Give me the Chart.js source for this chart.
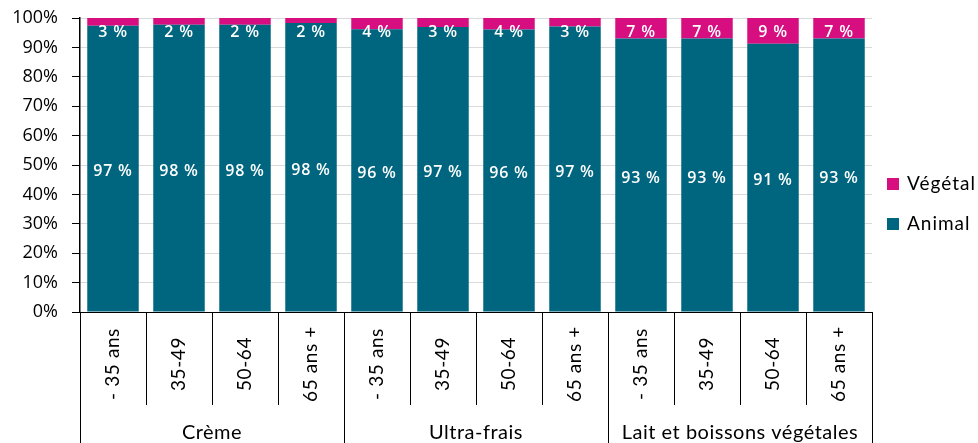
<!DOCTYPE html>
<html><head><meta charset="utf-8">
<script src="https://cdn.jsdelivr.net/npm/chart.js@4/dist/chart.umd.min.js"></script>
<style>html,body{margin:0;padding:0;background:#fff;}#wrap{width:978px;height:443px;position:relative;}</style>
</head><body><div id="wrap"><canvas id="c" width="978" height="443"></canvas></div>
<script>
const groups = ['Crème', 'Ultra-frais', 'Lait et boissons végétales'];
const ageLabels = ['- 35 ans', '35-49', '50-64', '65 ans +',
                   '- 35 ans', '35-49', '50-64', '65 ans +',
                   '- 35 ans', '35-49', '50-64', '65 ans +'];
const categories = ['Crème - 35 ans', 'Crème 35-49', 'Crème 50-64', 'Crème 65 ans +',
                    'Ultra-frais - 35 ans', 'Ultra-frais 35-49', 'Ultra-frais 50-64', 'Ultra-frais 65 ans +',
                    'Lait - 35 ans', 'Lait 35-49', 'Lait 50-64', 'Lait 65 ans +'];
const animal  = [97.4, 97.7, 97.7, 98.3, 96.2, 96.9, 96.1, 97.1, 93.0, 93.0, 91.2, 93.0];
const vegetal = [2.6, 2.3, 2.3, 1.7, 3.8, 3.1, 3.9, 2.9, 7.0, 7.0, 8.8, 7.0];
const seriesNames = ['Animal', 'Végétal'];
const yTickStep = 10;

const TEAL = '#00657f';
const PINK = '#d60e80';
const LABEL_FONT = '600 16px "Open Sans"';
const AXIS_FONT = 'Lato';

const overlay = {
  id: 'overlay',
  afterDatasetsDraw(chart) {
    const ctx = chart.ctx, area = chart.chartArea;
    ctx.save();
    ctx.fillStyle = '#fff';
    ctx.font = LABEL_FONT;
    ctx.letterSpacing = '0.8px';
    ctx.textAlign = 'center';
    ctx.textBaseline = 'middle';
    chart.data.datasets.forEach((ds, di) => {
      const meta = chart.getDatasetMeta(di);
      meta.data.forEach((el, i) => {
        const txt = Math.round(ds.data[i]) + ' %';
        let y;
        if (di === 0) y = (el.y + el.base) / 2 + 3;
        else y = area.top + 14;
        ctx.fillText(txt, el.x, y);
      });
    });
    ctx.restore();
  },
  afterDraw(chart) {
    const ctx = chart.ctx, area = chart.chartArea, xs = chart.scales.x;
    const n = ageLabels.length;
    const step = (area.right - area.left) / n;
    ctx.save();
    ctx.strokeStyle = '#000';
    ctx.lineWidth = 1;
    for (let i = 0; i <= n; i++) {
      const xb = Math.round(area.left + i * step) + 0.5;
      ctx.beginPath();
      ctx.moveTo(xb, area.bottom);
      ctx.lineTo(xb, i % 4 === 0 ? chart.height : area.bottom + 93);
      ctx.stroke();
    }
    ctx.fillStyle = '#000';
    ctx.font = '19px ' + AXIS_FONT;
    ctx.letterSpacing = '0.6px';
    ctx.textAlign = 'center';
    ctx.textBaseline = 'middle';
    ageLabels.forEach((lab, i) => {
      const x = xs.getPixelForValue(i);
      ctx.save();
      ctx.translate(x, area.bottom + 52);
      ctx.rotate(-Math.PI / 2);
      ctx.fillText(lab, 0, 0);
      ctx.restore();
    });
    ctx.font = '20px ' + AXIS_FONT;
    ctx.letterSpacing = '0.5px';
    groups.forEach((g, gi) => {
      const cx = area.left + (gi * 4 + 2) * step;
      ctx.fillText(g, cx, area.bottom + 121);
    });
    // legend
    ctx.font = '19px ' + AXIS_FONT;
    ctx.letterSpacing = '1px';
    const items = [[seriesNames[1], PINK, 184], [seriesNames[0], TEAL, 224]];
    ctx.textAlign = 'left';
    items.forEach(([name, col, y]) => {
      ctx.fillStyle = col;
      ctx.fillRect(887, y - 6, 12, 12);
      ctx.fillStyle = '#000';
      ctx.fillText(name, 907, y);
    });
    ctx.restore();
  }
};

new Chart(document.getElementById('c'), {
  type: 'bar',
  data: {
    labels: categories,
    datasets: [
      { label: seriesNames[0], data: animal, backgroundColor: TEAL, barPercentage: 0.78, categoryPercentage: 1 },
      { label: seriesNames[1], data: vegetal, backgroundColor: PINK, barPercentage: 0.78, categoryPercentage: 1 }
    ]
  },
  options: {
    responsive: false,
    animation: false,
    devicePixelRatio: 1,
    layout: { padding: { left: 0, right: 106, top: 18, bottom: 0 } },
    plugins: { legend: { display: false }, tooltip: { enabled: false } },
    scales: {
      x: {
        stacked: true,
        grid: { display: false },
        border: { display: true, color: '#000', width: 1 },
        ticks: { display: false },
        afterFit: s => { s.height = 131; s.paddingTop = 0; s.paddingBottom = 0; s.paddingLeft = 0; s.paddingRight = 0; }
      },
      y: {
        stacked: true,
        min: 0, max: 100,
        ticks: { stepSize: yTickStep, callback: v => v + '%', color: '#000', padding: 14,
                 font: { family: 'Open Sans', size: 18 } },
        grid: { color: '#d9d9d9', tickColor: '#000', tickLength: 8, lineWidth: 1 },
        border: { color: '#000', width: 1.5 },
        afterFit: s => { s.width = 80; s.paddingTop = 0; s.paddingBottom = 0; }
      }
    }
  },
  plugins: [overlay]
});
</script>
</body></html>
